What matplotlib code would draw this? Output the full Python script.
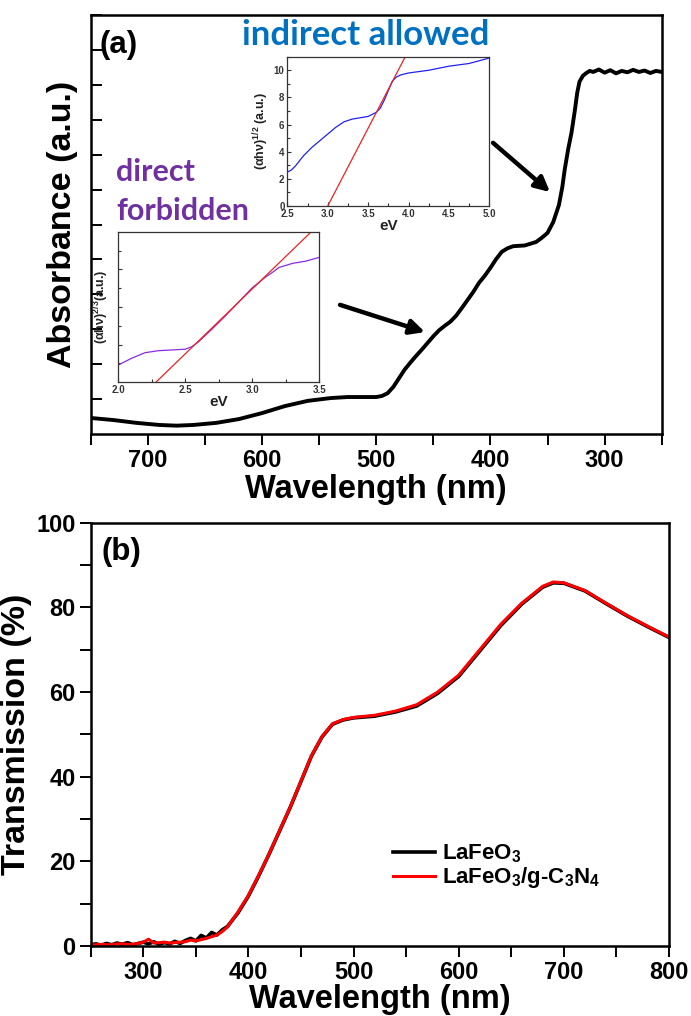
import matplotlib
matplotlib.use('Agg')
import matplotlib.pyplot as plt
import numpy as np

plt.rcParams['font.family'] = ['Liberation Sans', 'DejaVu Sans']
plt.rcParams['font.weight'] = 'bold'
plt.rcParams['axes.labelweight'] = 'bold'
plt.rcParams['mathtext.fontset'] = 'custom'
plt.rcParams['mathtext.rm'] = 'Liberation Sans:bold'
plt.rcParams['mathtext.it'] = 'Liberation Sans:italic:bold'
plt.rcParams['mathtext.bf'] = 'Liberation Sans:bold'

BLUE_TXT = '#0070C0'
PURPLE_TXT = '#7030A0'

# ── (a) absorbance spectrum ─────────────────────────────────────────────
abs_wl = [750, 730, 710, 690, 675, 660, 640, 620, 600, 580, 560, 540, 525,
          510, 500, 495, 490, 485, 480, 475, 470, 465, 460, 455, 450, 445,
          440, 435, 430, 425, 420, 415, 410, 405, 400, 395, 390, 385, 380,
          370, 360, 355, 350, 345, 340, 337, 335, 332, 329, 326, 324, 322,
          319, 316, 313, 310, 305, 300, 295, 290, 285, 280, 275, 270, 265,
          260, 255, 250]
abs_val = [0.46, 0.40, 0.32, 0.26, 0.24, 0.26, 0.32, 0.43, 0.60, 0.80, 0.95,
           1.03, 1.06, 1.06, 1.06, 1.09, 1.17, 1.35, 1.60, 1.85, 2.05, 2.24,
           2.42, 2.61, 2.80, 2.97, 3.10, 3.22, 3.39, 3.61, 3.84, 4.07, 4.33,
           4.53, 4.76, 5.01, 5.22, 5.32, 5.38, 5.40, 5.50, 5.62, 5.76, 6.07,
           6.56, 7.08, 7.56, 8.14, 8.63, 9.28, 9.77, 10.09, 10.26, 10.34,
           10.40, 10.37, 10.44, 10.35, 10.42, 10.33, 10.40, 10.36, 10.43,
           10.37, 10.41, 10.34, 10.40, 10.37]

# inset: indirect allowed Tauc plot
ind_ev = [2.5, 2.55, 2.6, 2.7, 2.8, 2.9, 3.0, 3.1, 3.2, 3.3, 3.4, 3.5, 3.6,
          3.65, 3.7, 3.75, 3.8, 3.85, 3.9, 4.0, 4.25, 4.5, 4.75, 5.0]
ind_val = [2.5, 2.65, 2.95, 3.7, 4.3, 4.8, 5.3, 5.8, 6.2, 6.4, 6.5, 6.6, 6.9,
           7.2, 7.8, 8.5, 9.2, 9.5, 9.65, 9.8, 10.0, 10.3, 10.5, 10.9]
ind_fit_ev = [3.0, 3.96]
ind_fit_val = [0.0, 11.0]

# inset: direct forbidden Tauc plot
dir_ev = [2.0, 2.1, 2.2, 2.3, 2.4, 2.5, 2.55, 2.6, 2.7, 2.8, 2.9, 3.0, 3.1,
          3.15, 3.2, 3.3, 3.4, 3.5]
dir_val = [0.115, 0.16, 0.197, 0.21, 0.215, 0.22, 0.237, 0.27, 0.354, 0.442,
           0.535, 0.628, 0.70, 0.73, 0.763, 0.79, 0.805, 0.83]
dir_fit_ev = [2.28, 3.44]
dir_fit_val = [0.0, 1.0]

# ── (b) transmission spectra ────────────────────────────────────────────
tr_wl = [250, 255, 260, 265, 270, 275, 280, 285, 290, 295, 300, 305, 310,
         315, 320, 325, 330, 335, 340, 345, 350, 355, 360, 365, 370, 375,
         380, 390, 400, 410, 420, 430, 440, 450, 460, 470, 480, 490, 500,
         520, 540, 560, 580, 600, 620, 640, 660, 680, 690, 700, 720, 740,
         760, 780, 800]
tr_lafeo3 = [0.3, 0.5, 0.2, 0.6, 0.3, 0.7, 0.4, 0.8, 0.3, 0.6, 0.9, 0.5,
             1.0, 0.4, 0.8, 0.5, 1.1, 0.6, 1.3, 1.8, 1.2, 2.5, 1.9, 3.2,
             2.6, 3.8, 4.6, 7.8, 11.8, 16.7, 21.9, 27.4, 32.9, 38.9, 44.9,
             49.4, 52.4, 53.4, 53.9, 54.3, 55.3, 56.7, 59.7, 63.7, 69.7,
             75.7, 80.8, 84.8, 85.8, 85.7, 83.9, 80.9, 78.0, 75.4, 72.9]
tr_composite = [0.2, 0.3, 0.4, 0.3, 0.3, 0.5, 0.5, 0.4, 0.4, 0.6, 0.9, 1.6,
                0.7, 0.8, 0.9, 0.7, 0.8, 0.9, 1.0, 1.4, 1.2, 1.5, 1.8, 2.2,
                2.6, 3.4, 4.5, 8.0, 12.0, 16.8, 22.0, 27.5, 33.0, 39.0, 45.0,
                49.5, 52.5, 53.5, 54.0, 54.5, 55.5, 57.0, 60.0, 64.0, 70.0,
                76.0, 81.0, 85.0, 86.0, 85.8, 84.0, 81.0, 78.1, 75.5, 73.0]

fig = plt.figure(figsize=(6.91, 10.16), dpi=100)

# ── panel (a) ───────────────────────────────────────────────────────────
ax1 = fig.add_axes([0.1313, 0.5728, 0.8263, 0.4124])
ax1.plot(abs_wl, abs_val, color='black', lw=2.8, solid_capstyle='round')
ax1.set_xlim(750, 250)
ax1.set_ylim(0, 12)
ax1.set_xticks([700, 600, 500, 400, 300])
ax1.set_xticks(np.arange(250, 751, 50), minor=True)
ax1.set_yticks(np.arange(1, 13))
ax1.set_yticklabels([])
ax1.tick_params(axis='x', which='both', direction='out', labelsize=17,
                width=1.4, length=8, top=False, pad=3)
ax1.tick_params(axis='y', direction='in', length=8, width=1.4, right=False)
for sp in ax1.spines.values():
    sp.set_linewidth(1.8)
ax1.set_xlabel('Wavelength (nm)', fontsize=23.5, labelpad=1)
ax1.set_ylabel('Absorbance (a.u.)', fontsize=24.5, labelpad=6)
ax1.text(0.016, 0.928, '(a)', transform=ax1.transAxes, fontsize=22.5,
         ha='left', va='center')

# arrows pointing to the absorption edges
ax1.annotate('', xy=(347.8, 6.93), xytext=(397.7, 8.34),
             arrowprops=dict(arrowstyle='-|>', color='black', lw=3.2,
                             mutation_scale=22, shrinkA=0, shrinkB=0))
ax1.annotate('', xy=(457.3, 2.92), xytext=(531.7, 3.70),
             arrowprops=dict(arrowstyle='-|>', color='black', lw=3.2,
                             mutation_scale=22, shrinkA=0, shrinkB=0))

fig.text(366 / 691, 1 - 35 / 1016, 'indirect allowed', color=BLUE_TXT,
         fontsize=25, family='Lato', weight='bold', ha='center', va='center')
fig.text(116 / 691, 1 - 172 / 1016, 'direct', color=PURPLE_TXT,
         fontsize=22, family='Lato', weight='bold', ha='left', va='center')
fig.text(116 / 691, 1 - 211 / 1016, 'forbidden', color=PURPLE_TXT,
         fontsize=22, family='Lato', weight='bold', ha='left', va='center')


def style_inset(ax):
    for sp in ax.spines.values():
        sp.set_linewidth(0.9)
        sp.set_color('#333333')
    ax.tick_params(which='both', direction='in', labelsize=7,
                   colors='#333333', width=0.8, pad=2)
    ax.tick_params(which='major', length=3)
    ax.tick_params(which='minor', length=2)
    ax.set_xlabel('eV', fontsize=11, labelpad=0, color='#222222')


# inset: indirect allowed
ins1 = fig.add_axes([0.4158, 0.7972, 0.2923, 0.1470])
ins1.plot(ind_ev, ind_val, color='#2222EE', lw=0.9)
ins1.plot(ind_fit_ev, ind_fit_val, color='#EE2222', lw=0.9)
ins1.set_xlim(2.5, 5.0)
ins1.set_ylim(0, 11)
ins1.set_xticks([2.5, 3.0, 3.5, 4.0, 4.5, 5.0])
ins1.set_xticks(np.arange(2.5, 5.01, 0.25), minor=True)
ins1.set_yticks([0, 2, 4, 6, 8, 10])
ins1.set_yticks(np.arange(0, 11.1, 1), minor=True)
style_inset(ins1)
ins1.set_ylabel(r'$\mathrm{(\alpha h\nu)}^{1/2}$ (a.u.)', fontsize=9,
                labelpad=2, color='#222222')

# inset: direct forbidden
ins2 = fig.add_axes([0.1712, 0.6237, 0.2909, 0.1482])
ins2.plot(dir_ev, dir_val, color='#8A2BE2', lw=0.9)
ins2.plot(dir_fit_ev, dir_fit_val, color='#EE2222', lw=0.9)
ins2.set_xlim(2.0, 3.5)
ins2.set_ylim(0, 1)
ins2.set_xticks([2.0, 2.5, 3.0, 3.5])
ins2.set_xticks(np.arange(2.0, 3.51, 0.25), minor=True)
ins2.set_yticks([0.25, 0.5, 0.75])
ins2.set_yticks([0.125, 0.375, 0.625, 0.875], minor=True)
ins2.set_yticklabels([])
style_inset(ins2)
ins2.set_ylabel(r'$\mathrm{(\alpha h\nu)}^{2/3}$(a.u.)', fontsize=9,
                labelpad=3, color='#222222')

# ── panel (b) ───────────────────────────────────────────────────────────
ax2 = fig.add_axes([0.1313, 0.0689, 0.8369, 0.4166])
ax2.plot(tr_wl, tr_lafeo3, color='black', lw=2.6, label=r'LaFeO$_3$')
ax2.plot(tr_wl, tr_composite, color='#FF0000', lw=2.2,
         label=r'LaFeO$_3$/g-C$_3$N$_4$')
ax2.set_xlim(250, 800)
ax2.set_ylim(0, 100)
ax2.set_xticks(np.arange(300, 801, 100))
ax2.set_xticks(np.arange(250, 801, 50), minor=True)
ax2.set_yticks(np.arange(0, 101, 20))
ax2.set_yticks(np.arange(0, 101, 10), minor=True)
ax2.tick_params(which='both', direction='out', labelsize=17, width=1.4,
                length=8, top=False, right=False, pad=3)
for sp in ax2.spines.values():
    sp.set_linewidth(1.8)
ax2.set_xlabel('Wavelength (nm)', fontsize=23.5, labelpad=0)
ax2.set_ylabel('Transmission (%)', fontsize=24.5, labelpad=3)
ax2.text(0.019, 0.931, '(b)', transform=ax2.transAxes, fontsize=22.5,
         ha='left', va='center')
ax2.legend(loc='upper left', bbox_to_anchor=(0.508, 0.265), frameon=False,
           fontsize=16, handlelength=1.85, handletextpad=0.35,
           labelspacing=0.0, borderaxespad=0)

fig.savefig('out.png', dpi=100)
